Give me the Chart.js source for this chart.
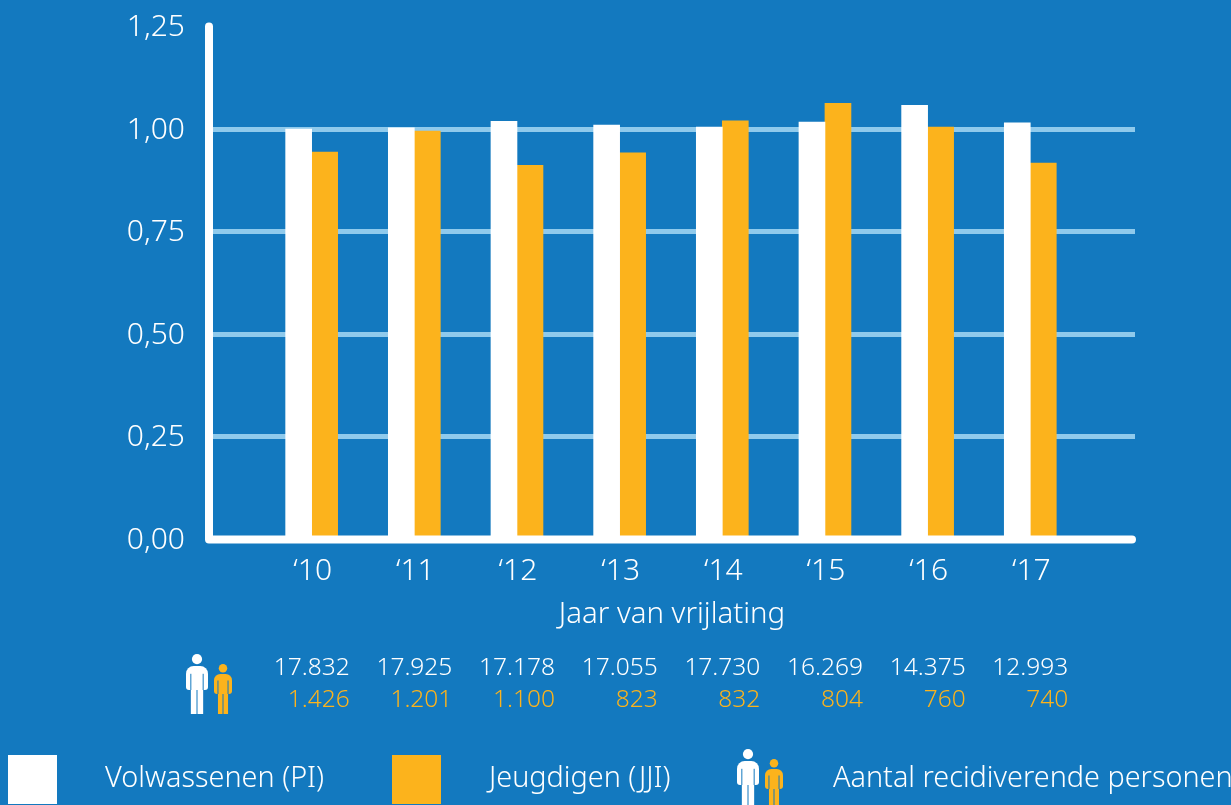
<!DOCTYPE html>
<html>
<head>
<meta charset="utf-8">
<title>Recidive</title>
<script src="https://cdn.jsdelivr.net/npm/chart.js@4"></script>
<style>
  html, body { margin: 0; background: #1379bf; overflow: hidden; }
  canvas { display: block; }
</style>
</head>
<body>
<canvas id="grafiek" width="1231" height="805"></canvas>
<script>
// data
const jaren = [2010, 2011, 2012, 2013, 2014, 2015, 2016, 2017];
const jaarLabels = ['‘10', '‘11', '‘12', '‘13', '‘14', '‘15', '‘16', '‘17'];
const volwassenen = [1.000, 1.003, 1.019, 1.010, 1.005, 1.017, 1.058, 1.015];
const jeugdigen = [0.944, 0.995, 0.912, 0.942, 1.020, 1.063, 1.005, 0.917];
const aantalVolwassenen = ['17.832', '17.925', '17.178', '17.055', '17.730', '16.269', '14.375', '12.993'];
const aantalJeugdigen = ['1.426', '1.201', '1.100', '823', '832', '804', '760', '740'];
const yLabels = ['0,00', '0,25', '0,50', '0,75', '1,00', '1,25'];

const WIT = '#ffffff';
const ORANJE = '#fcb31c';
const BLAUW = '#1379bf';
const LETTER = '"Noto Sans", sans-serif';

// poppetje: hoofd, romp met armen, spleet tussen de benen
function poppetje(ctx, x, top, w, h, kleur) {
  const hoofd = h * 0.085;
  const schouder = top + h * 0.2;
  const armEind = top + h * 0.6;
  const arm = w * 0.22;
  ctx.fillStyle = kleur;
  ctx.beginPath();
  ctx.arc(x + w / 2, top + hoofd, hoofd, 0, Math.PI * 2);
  ctx.fill();
  ctx.beginPath();
  ctx.roundRect(x, schouder, w, armEind - schouder, [w * 0.35, w * 0.35, 3, 3]);
  ctx.fill();
  ctx.fillRect(x + arm, schouder + 4, w - arm * 2, top + h - schouder - 4);
  ctx.strokeStyle = BLAUW;
  ctx.lineWidth = 1;
  ctx.beginPath();
  ctx.moveTo(x + arm, schouder + h * 0.13);
  ctx.lineTo(x + arm, armEind);
  ctx.moveTo(x + w - arm, schouder + h * 0.13);
  ctx.lineTo(x + w - arm, armEind);
  ctx.moveTo(x + w / 2, armEind);
  ctx.lineTo(x + w / 2, top + h);
  ctx.stroke();
}

function tweePoppetjes(ctx, x, top) {
  poppetje(ctx, x, top, 22, 60, WIT);
  poppetje(ctx, x + 28, top + 10, 18, 50, ORANJE);
}

const assen = {
  id: 'assen',
  afterDatasetsDraw(chart) {
    const { ctx, chartArea: a } = chart;
    ctx.save();
    ctx.strokeStyle = WIT;
    ctx.lineWidth = 8;
    ctx.lineCap = 'round';
    ctx.lineJoin = 'round';
    ctx.beginPath();
    ctx.moveTo(a.left, a.top);
    ctx.lineTo(a.left, a.bottom);
    ctx.lineTo(a.right - 3, a.bottom);
    ctx.stroke();
    ctx.restore();
  }
};

const onderkant = {
  id: 'onderkant',
  afterDraw(chart) {
    const { ctx, scales } = chart;
    ctx.save();
    ctx.font = '300 24.5px ' + LETTER;
    ctx.textAlign = 'right';
    ctx.textBaseline = 'middle';
    jaren.forEach((jaar, i) => {
      const x = scales.x.getPixelForValue(jaar) + 38;
      ctx.fillStyle = WIT;
      ctx.fillText(aantalVolwassenen[i], x, 668);
      ctx.fillStyle = ORANJE;
      ctx.fillText(aantalJeugdigen[i], x, 700);
    });
    tweePoppetjes(ctx, 186, 654);

    // legenda
    const sets = chart.data.datasets;
    ctx.fillStyle = sets[0].backgroundColor;
    ctx.fillRect(8, 755, 49, 49);
    ctx.fillStyle = sets[1].backgroundColor;
    ctx.fillRect(392, 755, 49, 49);
    tweePoppetjes(ctx, 737, 749);
    ctx.font = '300 28.8px ' + LETTER;
    ctx.textAlign = 'left';
    ctx.fillStyle = WIT;
    ctx.fillText(sets[0].label, 105, 779);
    ctx.fillText(sets[1].label, 489, 779);
    ctx.fillText('Aantal recidiverende personen', 833, 779);
    ctx.restore();
  }
};

new Chart(document.getElementById('grafiek'), {
  type: 'bar',
  data: {
    labels: jaren,
    datasets: [
      { label: 'Volwassenen (PI)', data: volwassenen, backgroundColor: WIT, borderWidth: 0 },
      { label: 'Jeugdigen (JJI)', data: jeugdigen, backgroundColor: ORANJE, borderWidth: 0 }
    ]
  },
  options: {
    responsive: false,
    animation: false,
    barThickness: 26,
    layout: { padding: { top: 26.5, right: 96, left: 0, bottom: 0 } },
    plugins: { legend: { display: false }, tooltip: { enabled: false } },
    scales: {
      x: {
        type: 'linear',
        offset: false,
        min: 2009,
        max: 2018.02,
        grid: { display: false },
        border: { display: false },
        afterFit(scale) { scale.height = 265.5; },
        ticks: {
          stepSize: 1,
          includeBounds: false,
          maxRotation: 0,
          autoSkip: false,
          color: WIT,
          padding: 6,
          labelOffset: 1,
          font: { family: LETTER, size: 30, weight: '300' },
          callback: (v) => jaarLabels[jaren.indexOf(v)] || ''
        },
        title: {
          display: true,
          text: 'Jaar van vrijlating',
          color: WIT,
          font: { family: LETTER, size: 29.4, weight: '300' },
          padding: { top: 0, bottom: 173 }
        }
      },
      y: {
        min: 0,
        max: 1.25,
        border: { display: false },
        afterFit(scale) {
          scale.width = 209;
          scale.paddingTop = 0;
          scale.paddingBottom = 0;
        },
        grid: {
          drawTicks: false,
          lineWidth: 5,
          color: (c) => c.tick && c.tick.value > 1.2 ? 'transparent' : '#8fcaec'
        },
        ticks: {
          stepSize: 0.25,
          color: WIT,
          padding: 24,
          labelOffset: 1,
          font: { family: LETTER, size: 30, weight: '300' },
          callback: (v, i) => yLabels[i]
        }
      }
    }
  },
  plugins: [assen, onderkant]
});
</script>
</body>
</html>
